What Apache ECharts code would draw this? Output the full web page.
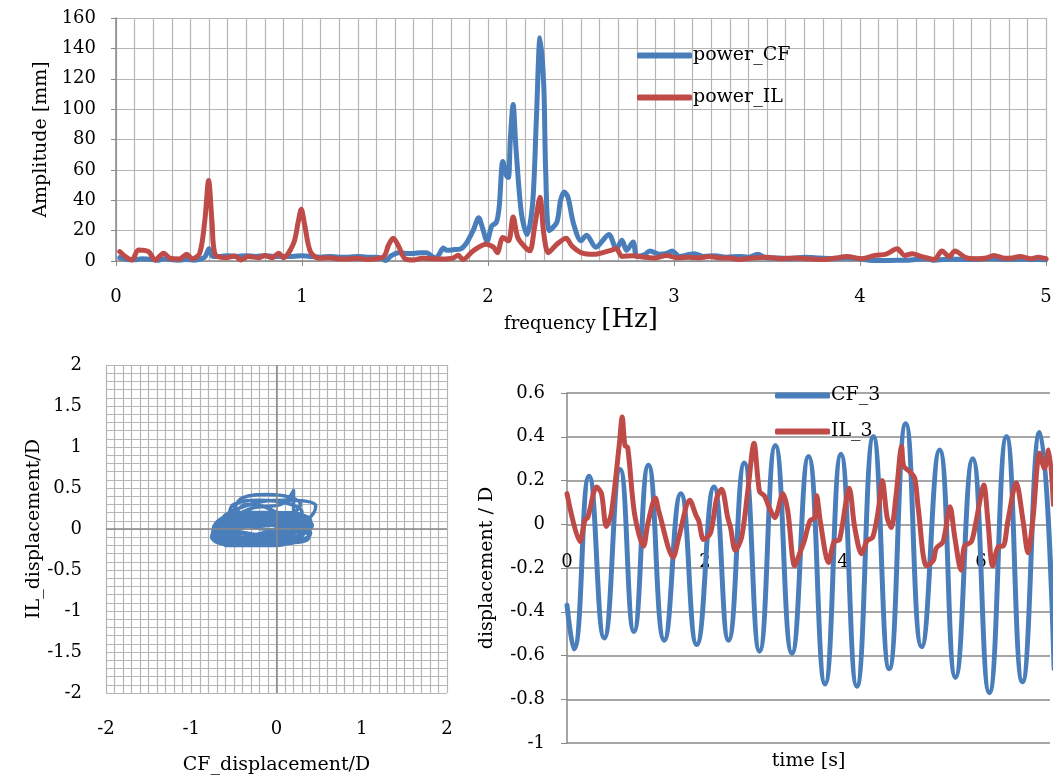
<!DOCTYPE html>
<html><head><meta charset="utf-8">
<script src="https://cdn.jsdelivr.net/npm/echarts@6/dist/echarts.min.js"></script>
<style>html,body{margin:0;padding:0;background:#fff}#c{width:1054px;height:778px}</style>
</head><body><div id="c"></div>
<script>
// ---- Spectrum (top) : [frequency Hz, amplitude mm]
const powerCF = [[0.02,2.2],[0.06,1],[0.10,0.8],[0.14,1.5],[0.18,1.2],[0.22,0.5],[0.26,1.5],[0.30,0.8],[0.34,0.5],[0.38,1],[0.42,0.5],[0.46,1.5],[0.48,3],[0.50,8],[0.52,3],[0.56,3],[0.60,3.5],[0.65,3],[0.70,3.5],[0.75,3],[0.80,3.5],[0.85,3],[0.90,3],[0.95,3],[1.00,3.5],[1.05,3],[1.10,2.5],[1.15,3],[1.20,2.5],[1.25,2.5],[1.30,3],[1.35,2.5],[1.40,2.5],[1.43,1.5],[1.45,0.3],[1.48,3.5],[1.52,5.5],[1.56,5],[1.60,5],[1.64,5.5],[1.67,5.5],[1.70,3],[1.72,2],[1.74,5],[1.76,8.5],[1.78,7],[1.82,7.5],[1.85,7.8],[1.88,11],[1.92,20],[1.95,28.5],[1.97,22],[1.995,13],[2.02,23],[2.045,25.5],[2.06,35.5],[2.08,65.5],[2.10,56],[2.11,55],[2.12,80],[2.135,103],[2.15,75],[2.18,31],[2.21,17.5],[2.24,38],[2.26,93],[2.28,147],[2.30,115],[2.31,60],[2.33,20],[2.37,25.5],[2.39,40],[2.41,45.5],[2.43,42],[2.46,24.5],[2.50,13.3],[2.53,17],[2.58,9],[2.65,17.5],[2.69,8],[2.72,13.6],[2.745,7],[2.78,12.5],[2.80,3],[2.84,4],[2.87,6.6],[2.92,4.4],[2.96,5],[2.99,6.6],[3.03,3],[3.07,4],[3.11,4.8],[3.16,3],[3.22,3.5],[3.28,2.5],[3.35,3],[3.40,2.5],[3.45,4.4],[3.50,2],[3.56,2],[3.62,1.5],[3.70,2.5],[3.78,2],[3.85,1.5],[3.92,2],[4.00,1.5],[4.05,0.5],[4.12,0.3],[4.20,0.5],[4.26,0.5],[4.30,1],[4.36,1.5],[4.40,0.5],[4.45,1],[4.50,1.2],[4.56,1],[4.62,1],[4.70,1.5],[4.78,1],[4.85,1.2],[4.92,1],[5.00,0.8]];
const powerIL = [[0.02,6.2],[0.05,2.9],[0.086,0.7],[0.12,7.3],[0.175,6.2],[0.21,0.7],[0.256,5.1],[0.29,1.8],[0.34,1.3],[0.38,4.4],[0.41,1.3],[0.45,5.1],[0.477,26],[0.498,53],[0.516,26],[0.534,4],[0.59,2.2],[0.64,3.3],[0.67,0.7],[0.71,2.9],[0.77,2.2],[0.80,3.6],[0.84,2.2],[0.875,5.1],[0.90,2.2],[0.955,11.8],[0.98,26],[0.996,34],[1.014,24],[1.045,6.2],[1.09,1.8],[1.14,2.2],[1.19,1.5],[1.23,1.3],[1.30,1.8],[1.35,1],[1.39,1.3],[1.44,2.9],[1.466,10.7],[1.49,15],[1.52,9.6],[1.555,1.3],[1.60,0.7],[1.645,1.8],[1.70,1.5],[1.75,1.3],[1.81,1.8],[1.84,3.8],[1.865,1],[1.92,6.7],[1.99,11],[2.03,9],[2.05,5.5],[2.08,15.5],[2.11,13.3],[2.135,29],[2.16,15.5],[2.20,9],[2.225,6.7],[2.25,22],[2.28,42],[2.30,17.8],[2.325,5.5],[2.37,11],[2.42,15],[2.45,10],[2.50,5.5],[2.57,4.4],[2.65,6.7],[2.69,8],[2.72,3],[2.78,3.5],[2.84,2.5],[2.90,2],[2.96,3.7],[3.02,2],[3.08,2.5],[3.13,2],[3.19,3],[3.25,2],[3.30,2],[3.35,1],[3.42,2],[3.50,2.5],[3.58,1.5],[3.65,2],[3.72,1.5],[3.80,1],[3.87,2],[3.93,3],[4.01,1.5],[4.08,3.7],[4.14,4.5],[4.20,8],[4.24,3.7],[4.28,4.8],[4.33,3],[4.40,1],[4.44,6.6],[4.48,3],[4.51,6.6],[4.57,2.2],[4.63,1.5],[4.68,2],[4.72,3.7],[4.78,1.8],[4.82,2],[4.86,3],[4.92,1.5],[4.96,2.5],[5.00,1.5]];

// ---- Time series (bottom right) : [time s, displacement/D]
const CF3 = [[0.00,-0.37],[0.10,-0.57],[0.32,0.22],[0.54,-0.52],[0.77,0.25],[0.97,-0.49],[1.18,0.27],[1.41,-0.53],[1.65,0.14],[1.88,-0.55],[2.13,0.17],[2.34,-0.53],[2.57,0.28],[2.79,-0.58],[3.02,0.36],[3.26,-0.59],[3.50,0.31],[3.74,-0.73],[3.97,0.32],[4.20,-0.74],[4.44,0.40],[4.67,-0.66],[4.91,0.46],[5.14,-0.56],[5.40,0.34],[5.63,-0.70],[5.88,0.30],[6.12,-0.77],[6.37,0.40],[6.60,-0.72],[6.85,0.42],[7.06,-0.66]];
const IL3 = [[0.00,0.14],[0.19,-0.08],[0.26,0.02],[0.30,0.03],[0.43,0.17],[0.50,0.14],[0.57,-0.01],[0.64,0.045],[0.76,0.37],[0.80,0.49],[0.84,0.36],[0.88,0.35],[0.98,0.045],[1.11,-0.10],[1.17,0.0],[1.28,0.12],[1.33,0.06],[1.54,-0.15],[1.62,-0.06],[1.78,0.11],[1.87,0.04],[1.91,0.015],[1.98,-0.07],[2.08,-0.04],[2.17,0.12],[2.24,0.16],[2.33,0.03],[2.37,-0.015],[2.44,-0.12],[2.53,-0.06],[2.62,0.15],[2.71,0.37],[2.79,0.15],[2.86,0.13],[2.94,0.07],[3.01,0.03],[3.13,0.14],[3.20,0.06],[3.30,-0.19],[3.37,-0.135],[3.44,-0.075],[3.52,0.015],[3.59,0.03],[3.62,0.13],[3.67,0.015],[3.79,-0.175],[3.87,-0.08],[3.95,-0.07],[4.09,0.165],[4.17,-0.015],[4.27,-0.135],[4.35,-0.075],[4.43,-0.06],[4.51,0.06],[4.57,0.20],[4.64,0.03],[4.70,-0.015],[4.77,0.135],[4.85,0.355],[4.88,0.265],[4.97,0.24],[5.04,0.21],[5.09,0.075],[5.21,-0.19],[5.31,-0.165],[5.35,-0.11],[5.45,-0.08],[5.55,0.08],[5.62,-0.06],[5.71,-0.21],[5.76,-0.10],[5.86,-0.08],[5.93,0.015],[6.04,0.18],[6.10,0.015],[6.17,-0.19],[6.26,-0.10],[6.32,-0.10],[6.39,0.015],[6.51,0.19],[6.61,0.015],[6.68,-0.13],[6.75,0.015],[6.85,0.325],[6.92,0.255],[6.98,0.34],[7.05,0.09]];

// ---- Orbit (bottom left) : [CF_displacement/D, IL_displacement/D]
const orbit = [[-0.37,0.14],[-0.56,-0.05],[-0.2,-0.15],[0.22,0.05],[0.0,0.18],
 [-0.52,0.08],[-0.6,-0.08],[-0.2,-0.17],[0.2,0.1],[0.2,0.47],[0.05,0.3],[-0.3,0.25],
 [-0.49,0.05],[-0.3,-0.15],[0.26,-0.05],[0.1,0.15],[-0.3,0.18],
 [-0.53,-0.1],[-0.2,-0.2],[0.13,-0.1],[0.0,0.12],[-0.4,0.15],
 [-0.54,0.0],[-0.3,-0.18],[0.17,-0.02],[0.0,0.2],[-0.35,0.3],
 [-0.53,0.1],[-0.4,0.38],[-0.1,0.42],[0.28,0.3],[0.0,0.1],
 [-0.58,-0.05],[-0.3,-0.2],[0.36,0.05],[0.2,0.2],[-0.3,0.15],
 [-0.59,-0.1],[-0.2,-0.2],[0.30,-0.05],[0.1,0.12],[-0.4,0.1],
 [-0.72,-0.1],[-0.5,-0.2],[0.32,0.0],[0.1,0.18],[-0.4,0.2],
 [-0.74,0.0],[-0.5,-0.18],[0.0,-0.15],[0.40,0.15],[0.46,0.28],[0.1,0.35],[-0.3,0.3],
 [-0.66,0.05],[-0.6,-0.15],[0.0,-0.2],[0.34,0.05],[0.1,0.18],[-0.3,0.2],
 [-0.69,-0.05],[-0.4,-0.2],[0.30,-0.1],[0.3,0.15],[-0.2,0.2],
 [-0.76,-0.1],[-0.5,-0.2],[0.40,-0.05],[0.2,0.1],[-0.4,0.05],
 [-0.72,-0.15],[-0.3,-0.18],[0.42,0.05],[0.1,0.15],[-0.5,0.1],
 [-0.65,-0.12],[-0.2,-0.2],[0.2,-0.15],[0.35,0.0],[-0.2,0.1],
 [-0.7,0.0],[-0.4,-0.15],[0.25,-0.1],[0.3,0.1],[-0.3,0.12],
 [-0.6,-0.2],[0.0,-0.18],[0.38,-0.1],[0.2,0.08],[-0.5,0.15],
 [-0.75,-0.05],[-0.5,-0.18],[0.1,-0.15],[0.4,0.1],[-0.1,0.2],
 [-0.55,0.2],[-0.5,0.3],[-0.2,0.35],[0.3,0.2],[0.0,0.0],
 [-0.7,-0.15],[-0.3,-0.12],[0.15,0.0],[-0.2,0.05],[-0.6,-0.05],
 [-0.4,-0.1],[0.0,-0.05],[0.3,-0.15],[0.4,-0.05],[0.0,0.05],[-0.6,0.02],
 [-0.7,-0.08],[-0.45,-0.05],[-0.1,-0.1],[0.25,0.02],[0.05,0.08],[-0.45,0.0],
 [-0.62,-0.1],[-0.35,0.05],[0.0,0.1],[0.3,0.05],[0.1,-0.08],[-0.3,-0.1],
 [-0.68,-0.14],[-0.55,0.05],[-0.15,0.0],[0.2,-0.05],[-0.05,-0.12],[-0.5,-0.08],
 [-0.58,0.12],[-0.2,0.1],[0.15,0.12],[0.38,0.02],[0.15,-0.12],[-0.35,-0.05],[-0.6,0.0]];

const seriesNames = ['power_CF','power_IL','CF_3','IL_3'];

const FONT = 'DejaVu Serif';
const BLUE = '#4a7ebb', RED = '#be4b48';
const GRIDC = '#b5b5b5', AXISC = '#888888';
const lbl = (m)=>({margin:m, color:'#000', fontFamily:FONT, fontSize:18});
const gridLine = {show:true, lineStyle:{color:GRIDC, width:1.2}};
const nm = {color:'#000', fontFamily:FONT, fontSize:19};

const chart = echarts.init(document.getElementById('c'));
chart.setOption({
  animation:false,
  backgroundColor:'#fff',
  grid:[
    {left:116, top:18, width:930, height:243, outerBoundsMode:'none'},
    {left:106, top:365, width:341, height:328, outerBoundsMode:'none'},
    {left:567, top:393, width:483, height:350, outerBoundsMode:'none'}
  ],
  legend:[
    {data:[seriesNames[0],seriesNames[1]], orient:'vertical', left:632, top:41, itemGap:23,
     icon:'roundRect', itemWidth:55, itemHeight:6, textStyle:{color:'#000', fontFamily:FONT, fontSize:19, padding:[0,0,0,-4]}},
    {data:[seriesNames[2],seriesNames[3]], orient:'vertical', left:770, top:381, itemGap:17,
     icon:'roundRect', itemWidth:55, itemHeight:6, textStyle:{color:'#000', fontFamily:FONT, fontSize:19, padding:[0,0,0,-4]}}
  ],
  xAxis:[
    {gridIndex:0, type:'value', min:0, max:5, interval:1,
     axisLine:{show:true, onZero:false, lineStyle:{color:AXISC, width:1.5}},
     axisTick:{show:true, length:5, lineStyle:{color:AXISC}},
     axisLabel:lbl(27), splitLine:gridLine,
     minorTick:{show:false, splitNumber:10}, minorSplitLine:gridLine,
     name:'{a|frequency }{b|[Hz]}', nameLocation:'middle', nameGap:31,
     nameTextStyle:{rich:{a:{fontFamily:FONT,fontSize:18,color:'#000',verticalAlign:'bottom'},b:{fontFamily:FONT,fontSize:26,color:'#000',verticalAlign:'bottom'}}}},
    {gridIndex:1, type:'value', min:-2, max:2, interval:1,
     axisLine:{show:false, onZero:false}, axisTick:{show:false},
     axisLabel:lbl(27), splitLine:gridLine,
     minorTick:{show:false, splitNumber:10}, minorSplitLine:gridLine,
     name:'CF_displacement/D', nameLocation:'middle', nameGap:63, nameTextStyle:nm},
    {gridIndex:2, type:'value', min:0, max:7, interval:2, position:'bottom', offset:-220,
     axisLine:{show:false, onZero:false}, axisTick:{show:false},
     axisLabel:Object.assign(lbl(30),{showMaxLabel:false}), splitLine:{show:false},
     name:'time [s]', nameLocation:'middle', nameGap:229, nameTextStyle:nm}
  ],
  yAxis:[
    {gridIndex:0, type:'value', min:0, max:160, interval:20,
     axisLine:{show:true, onZero:false, lineStyle:{color:AXISC, width:1.5}},
     axisTick:{show:true, length:5, lineStyle:{color:AXISC}},
     axisLabel:lbl(20), splitLine:gridLine,
     name:'Amplitude [mm]', nameLocation:'middle', nameGap:63, nameTextStyle:nm},
    {gridIndex:1, type:'value', min:-2, max:2, interval:0.5,
     axisLine:{show:false, onZero:false}, axisTick:{show:false},
     axisLabel:lbl(24), splitLine:gridLine,
     minorTick:{show:false, splitNumber:5}, minorSplitLine:gridLine,
     name:'IL_displacement/D', nameLocation:'middle', nameGap:60, nameTextStyle:nm},
    {gridIndex:2, type:'value', min:-1, max:0.6, interval:0.2,
     axisLine:{show:true, onZero:false, lineStyle:{color:AXISC, width:1.5}},
     axisTick:{show:true, length:6, lineStyle:{color:AXISC}},
     axisLabel:lbl(22), splitLine:{show:true, lineStyle:{color:AXISC, width:1.5}},
     name:'displacement / D', nameLocation:'middle', nameGap:70, nameTextStyle:nm}
  ],
  series:[
    {name:seriesNames[0], type:'line', xAxisIndex:0, yAxisIndex:0, data:powerCF, smooth:0.3, showSymbol:false,
     lineStyle:{color:BLUE, width:5, cap:'round', join:'round'}, itemStyle:{color:BLUE}},
    {name:seriesNames[1], type:'line', xAxisIndex:0, yAxisIndex:0, data:powerIL, smooth:0.3, showSymbol:false,
     lineStyle:{color:RED, width:5, cap:'round', join:'round'}, itemStyle:{color:RED}},
    {name:'axes0', type:'line', xAxisIndex:1, yAxisIndex:1, data:[], z:1, silent:true,
     markLine:{silent:true, symbol:['none','none'], label:{show:false}, animation:false,
       lineStyle:{color:AXISC, width:1.5, type:'solid'}, data:[{xAxis:0},{yAxis:0}]}},
    {name:'orbit', type:'line', xAxisIndex:1, yAxisIndex:1, data:orbit, smooth:0.45, showSymbol:false, z:3,
     lineStyle:{color:BLUE, width:3.5, join:'round'}, itemStyle:{color:BLUE}},
    {name:seriesNames[2], type:'line', xAxisIndex:2, yAxisIndex:2, data:CF3, smooth:0.5, showSymbol:false,
     lineStyle:{color:BLUE, width:5, cap:'round', join:'round'}, itemStyle:{color:BLUE}},
    {name:seriesNames[3], type:'line', xAxisIndex:2, yAxisIndex:2, data:IL3, smooth:0.3, showSymbol:false,
     lineStyle:{color:RED, width:5, cap:'round', join:'round'}, itemStyle:{color:RED}}
  ]
});
</script></body></html>
